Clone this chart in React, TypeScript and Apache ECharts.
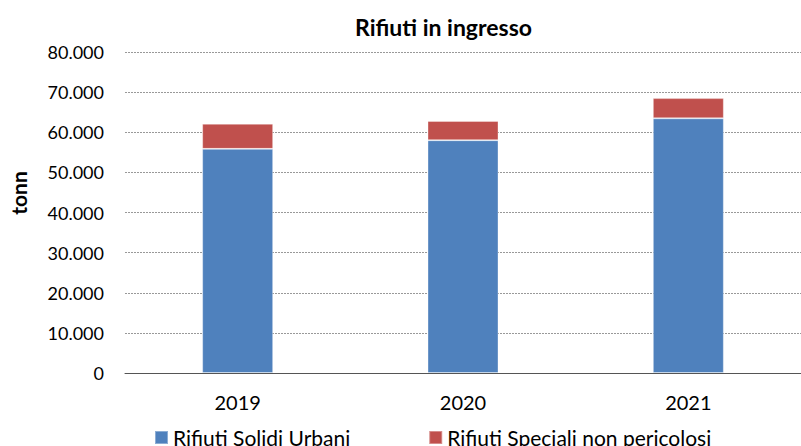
import React, { useEffect, useRef } from "react";
import * as echarts from "echarts";

const categories = ["2019", "2020", "2021"];
const rsuValues = [55860, 58020, 63470];
const rsnpValues = [6270, 4790, 5040];
const seriesNames = ["Rifiuti Solidi Urbani", "Rifiuti Speciali non pericolosi"];
const titleText = "Rifiuti in ingresso";
const yAxisName = "tonn";

const FONT = "Lato, 'Open Sans', sans-serif";

function fmt(v: number): string {
  if (v === 0) return "0";
  return Math.round(v).toString().replace(/\B(?=(\d{3})+(?!\d))/g, ".");
}

export default function App() {
  const ref = useRef<HTMLDivElement>(null);
  useEffect(() => {
    if (!ref.current) return;
    const chart = echarts.init(ref.current, undefined, { renderer: "svg" });
    chart.setOption({
      animation: false,
      backgroundColor: "#ffffff",
      title: {
        text: titleText,
        left: 443.5,
        textAlign: "center",
        top: 15,
        padding: 0,
        textStyle: { fontFamily: FONT, fontSize: 23, fontWeight: "bold", color: "#000" },
      },
      graphic: [
        {
          type: "text",
          x: 18.5,
          y: 193,
          rotation: Math.PI / 2,
          style: {
            text: yAxisName,
            fontFamily: FONT,
            fontSize: 21,
            fontWeight: "bold",
            fill: "#000",
            align: "center",
            verticalAlign: "middle",
          },
        },
      ],
      grid: { left: 125, top: 52, width: 681, height: 321, containLabel: false },
      legend: {
        data: seriesNames,
        left: 154,
        top: 427,
        padding: 0,
        icon: "rect",
        itemWidth: 13,
        itemHeight: 13,
        itemGap: 78,
        textStyle: { fontFamily: FONT, fontSize: 21, color: "#000" },
      },
      xAxis: {
        type: "category",
        data: categories,
        axisLine: { show: true, lineStyle: { color: "#555", width: 1 } },
        axisTick: { show: false },
        axisLabel: { fontFamily: FONT, fontSize: 20, color: "#000", margin: 19 },
      },
      yAxis: {
        type: "value",
        min: 0,
        max: 80000,
        interval: 10000,
        axisLine: { show: false },
        axisTick: { show: false },
        axisLabel: {
          fontFamily: FONT,
          fontSize: 18,
          color: "#000",
          margin: 21,
          formatter: (v: number) => fmt(v),
        },
        splitLine: { show: true, lineStyle: { color: "#999", type: [2, 1], width: 1 } },
      },
      series: [
        {
          name: seriesNames[0],
          type: "bar",
          stack: "total",
          data: rsuValues,
          barWidth: 71,
          itemStyle: { color: "#4F81BD", borderColor: "rgba(255,255,255,0.35)", borderWidth: 1 },
        },
        {
          name: seriesNames[1],
          type: "bar",
          stack: "total",
          data: rsnpValues,
          barWidth: 71,
          itemStyle: { color: "#C0504D", borderColor: "rgba(255,255,255,0.35)", borderWidth: 1 },
        },
      ],
    });
    return () => chart.dispose();
  }, []);
  return (
    <div
      ref={ref}
      style={{ position: "absolute", left: 0, top: 0, width: 801, height: 446, overflow: "hidden" }}
    />
  );
}
